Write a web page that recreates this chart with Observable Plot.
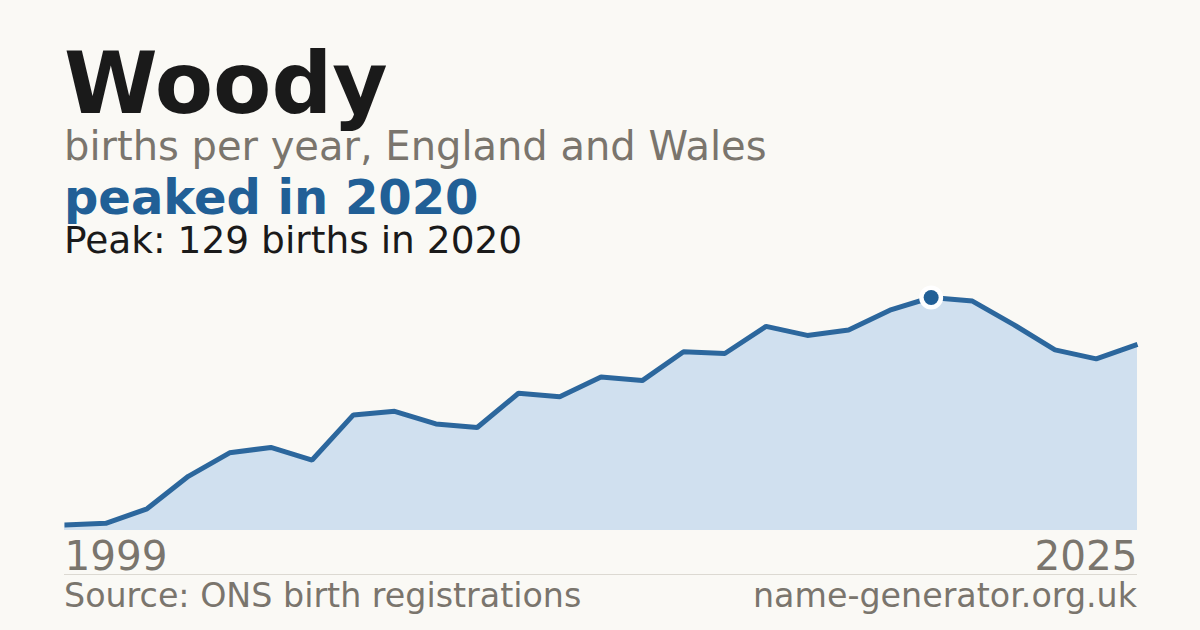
<!DOCTYPE html>
<html>
<head>
<meta charset="utf-8">
<script src="https://cdn.jsdelivr.net/npm/d3@7"></script>
<script src="https://cdn.jsdelivr.net/npm/@observablehq/plot@0.6"></script>
<style>
  html, body { margin: 0; padding: 0; }
  body { width: 1200px; height: 630px; background: #faf9f5; position: relative; overflow: hidden;
         font-family: "DejaVu Sans", sans-serif; }
  .t { position: absolute; left: 64px; line-height: 0.75; white-space: nowrap; }
  #title { font-size: 85px; font-weight: bold; color: #1a1a1a; top: 52px; }
  #subtitle { font-size: 40px; color: #7a756d; top: 131.2px; }
  #headline { font-size: 48px; font-weight: bold; color: #215f96; top: 179.4px; }
  #peak { font-size: 37.5px; color: #1a1a1a; top: 226.3px; }
  #chart { position: absolute; left: 0; top: 270px; }
  #rule { position: absolute; left: 64px; width: 1073px; top: 574px; height: 1px; background: #dcd9d2; }
  #source { font-size: 33.3px; color: #7a756d; top: 584.3px; }
  #site { position: absolute; right: 63px; font-size: 33.3px; color: #7a756d; top: 584.3px; line-height: 0.75; white-space: nowrap; }
</style>
</head>
<body>
<div class="t" id="title">Woody</div>
<div class="t" id="subtitle">births per year, England and Wales</div>
<div class="t" id="headline">peaked in 2020</div>
<div class="t" id="peak">Peak: 129 births in 2020</div>
<div id="chart"></div>
<div id="rule"></div>
<div class="t" id="source">Source: ONS birth registrations</div>
<div id="site">name-generator.org.uk</div>
<script>
const years = [1999,2000,2001,2002,2003,2004,2005,2006,2007,2008,2009,2010,2011,2012,2013,2014,2015,2016,2017,2018,2019,2020,2021,2022,2023,2024,2025];
const births = [3,4,12,30,43,46,39,64,66,59,57,76,74,85,83,99,98,113,108,111,122,129,127,114,100,95,103];
const tickLabels = ["1999","2025"];

const data = years.map((y, i) => ({year: y, births: births[i]}));
const maxB = d3.max(births);
const peak = data.filter(d => d.births === maxB);

const chart = Plot.plot({
  width: 1200,
  height: 320,
  marginLeft: 64,
  marginRight: 63,
  marginTop: 27,
  marginBottom: 60,
  style: {background: "transparent", fontFamily: "DejaVu Sans, sans-serif"},
  x: {domain: [years[0], years[years.length - 1]], axis: null},
  y: {domain: [0, maxB], axis: null},
  marks: [
    Plot.areaY(data, {x: "year", y: "births", fill: "#d0e0ef"}),
    Plot.lineY(data, {x: "year", y: "births", stroke: "#2c679d", strokeWidth: 5, strokeLinejoin: "miter", strokeLinecap: "butt"}),
    Plot.dot(peak, {x: "year", y: "births", r: 12, fill: "#ffffff"}),
    Plot.dot(peak, {x: "year", y: "births", r: 7.5, fill: "#215f96"}),
    Plot.text([years[0]], {x: d => d, text: () => tickLabels[0], frameAnchor: "bottom", textAnchor: "start", lineAnchor: "middle", dy: 26.4, fontSize: 40.5, fill: "#7a756d"}),
    Plot.text([years[years.length - 1]], {x: d => d, text: () => tickLabels[1], frameAnchor: "bottom", textAnchor: "end", lineAnchor: "middle", dy: 26.4, fontSize: 40.5, fill: "#7a756d"})
  ]
});
document.getElementById("chart").appendChild(chart);
</script>
</body>
</html>
